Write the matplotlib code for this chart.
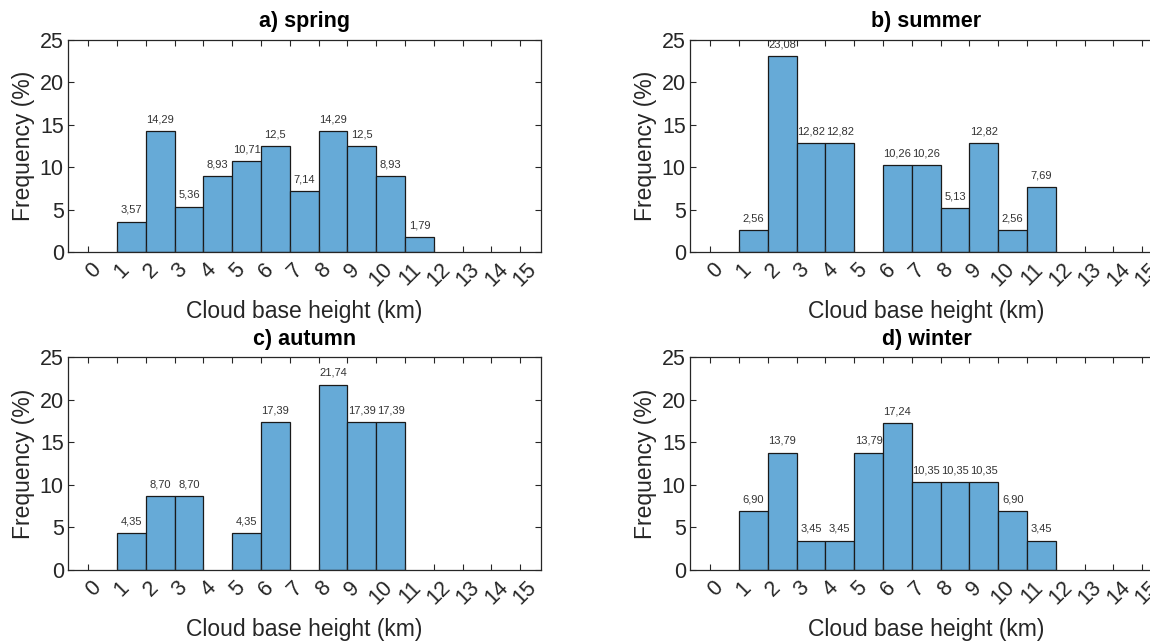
import matplotlib
matplotlib.use("Agg")
import matplotlib.pyplot as plt
from matplotlib.transforms import ScaledTranslation

plt.rcParams['font.family'] = ['Liberation Sans', 'DejaVu Sans']

# Bin edges (km): each bar spans [h, h + 1)
bin_starts = list(range(0, 15))
x_ticks = list(range(0, 16))

# Frequency (%) per 1 km bin, written as printed above the bars ("" = empty bin)
spring = ["", "3,57", "14,29", "5,36", "8,93", "10,71", "12,5", "7,14",
          "14,29", "12,5", "8,93", "1,79", "", "", ""]
summer = ["", "2,56", "23,08", "12,82", "12,82", "", "10,26", "10,26",
          "5,13", "12,82", "2,56", "7,69", "", "", ""]
autumn = ["", "4,35", "8,70", "8,70", "", "4,35", "17,39", "",
          "21,74", "17,39", "17,39", "", "", "", ""]
winter = ["", "6,90", "13,79", "3,45", "3,45", "13,79", "17,24", "10,35",
          "10,35", "10,35", "6,90", "3,45", "", "", ""]

titles = ["a) spring", "b) summer", "c) autumn", "d) winter"]
seasons = [spring, summer, autumn, winter]

W, H = 1150, 642
fig = plt.figure(figsize=(W / 100, H / 100), dpi=100)

# panel boxes in pixels: left, top, width, height
boxes = [(68, 40, 473, 212), (690, 40, 473, 212),
         (68, 357, 473, 213), (690, 357, 473, 213)]

face = (0.4, 0.668, 0.845)
dark = '#262626'
shift = ScaledTranslation(5 / 100, 0, fig.dpi_scale_trans)

for box, title, labels in zip(boxes, titles, seasons):
    l, t, w, h = box
    ax = fig.add_axes([l / W, 1 - (t + h) / H, w / W, h / H])
    heights = [float(s.replace(',', '.')) if s else 0.0 for s in labels]
    for x0, hv, s in zip(bin_starts, heights, labels):
        if hv > 0:
            ax.bar(x0, hv, width=1.0, align='edge', color=face,
                   edgecolor='#1a1a1a', linewidth=0.9)
            ax.text(x0 + 0.5, hv + 0.8, s, ha='center', va='bottom',
                    fontsize=8, color='#333333')
    ax.set_xlim(-0.7, 15.72)
    ax.set_ylim(0, 25)
    ax.set_xticks(x_ticks)
    ax.set_xticklabels([str(v) for v in x_ticks], rotation=45, ha='center')
    ax.set_yticks([0, 5, 10, 15, 20, 25])
    ax.tick_params(direction='in', top=True, right=True, length=4,
                   width=0.8, labelsize=15.5, colors=dark, pad=3)
    ax.tick_params(axis='x', pad=5)
    for lab in ax.get_xticklabels():
        lab.set_transform(lab.get_transform() + shift)
    for sp in ax.spines.values():
        sp.set_color(dark)
        sp.set_linewidth(0.9)
    ax.set_title(title, fontsize=15.5, fontweight='bold', pad=9, color='black')
    ax.set_xlabel("Cloud base height (km)", fontsize=16.5, color=dark)
    ax.set_ylabel("Frequency (%)", fontsize=16.5, color=dark)
    ax.xaxis.set_label_coords(0.5, -0.225)
    ax.yaxis.set_label_coords(-0.069, 0.5)

fig.savefig("out.png", dpi=100)
